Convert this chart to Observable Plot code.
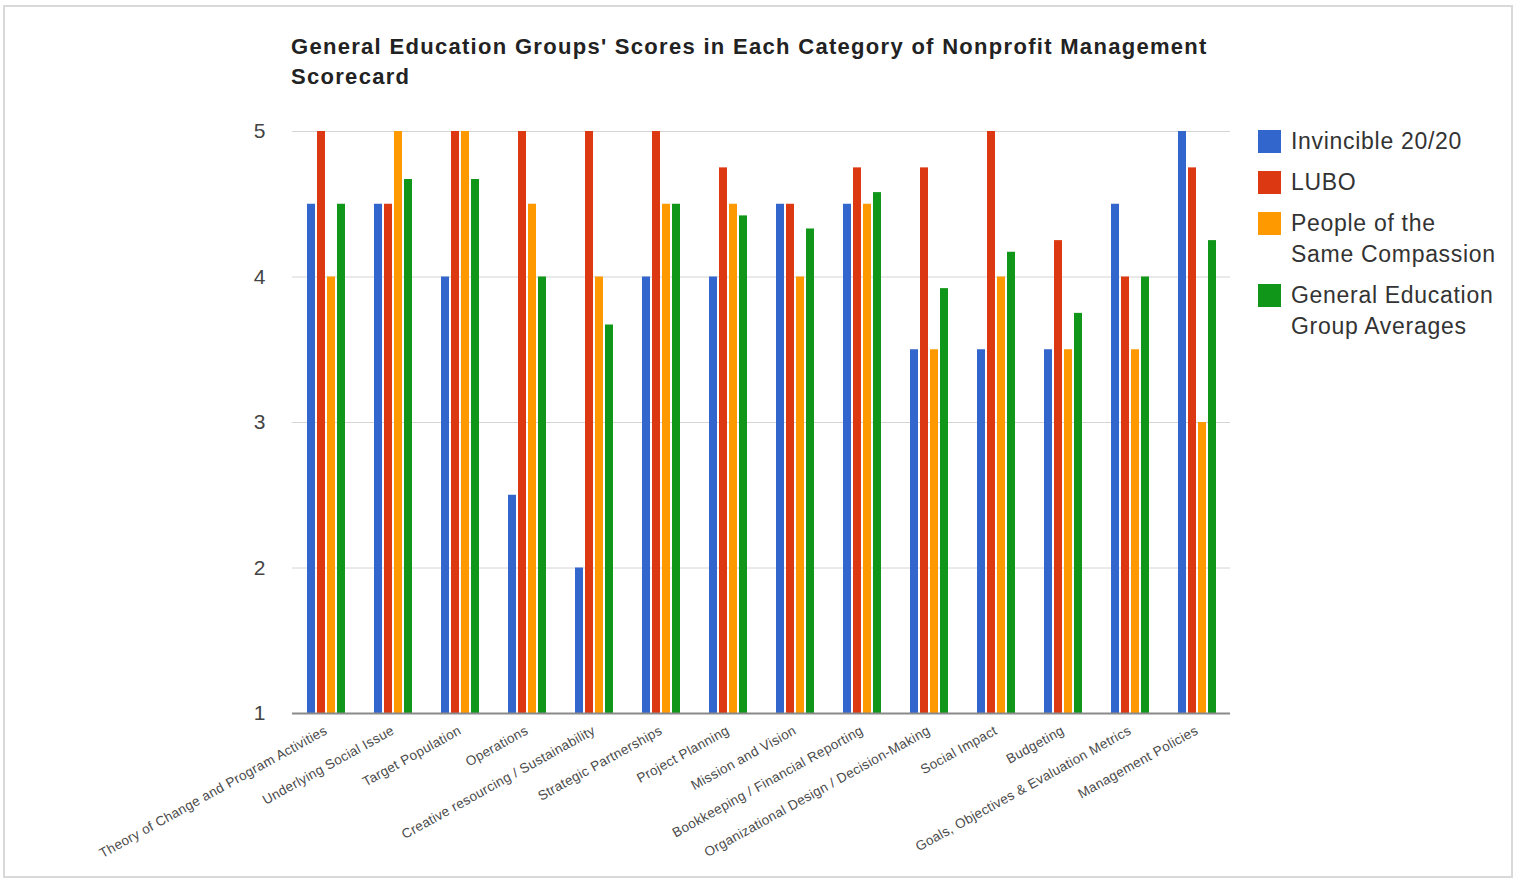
<!DOCTYPE html>
<html>
<head>
<meta charset="utf-8">
<script src="https://cdn.jsdelivr.net/npm/d3@7"></script>
<script src="https://cdn.jsdelivr.net/npm/@observablehq/plot@0.6"></script>
<style>
  html, body { margin: 0; padding: 0; background: #fff; }
  body { width: 1524px; height: 884px; position: relative; overflow: hidden; font-family: "Liberation Sans", Arial, Helvetica, sans-serif; }
  #frame { position: absolute; left: 3px; top: 5px; width: 1510px; height: 873px; border: 2px solid #d9d9d9; box-sizing: border-box; }
  #title { position: absolute; left: 291px; top: 32px; font-weight: bold; font-size: 22px; letter-spacing: 1.3px; line-height: 30px; color: #222; white-space: nowrap; }
  #chart { position: absolute; left: 0; top: 100px; }
  #legend { position: absolute; left: 1258px; top: 126px; font-size: 23px; letter-spacing: 0.7px; line-height: 31px; color: #333; }
  .item { display: flex; align-items: flex-start; margin-bottom: 10px; }
  .sw { width: 23px; height: 23px; margin-top: 4px; margin-right: 10px; flex: none; }
  #chart svg g[aria-label="fx-axis tick label"] text { letter-spacing: 0.3px; }
</style>
</head>
<body>
<div id="frame"></div>
<div id="title"></div>
<div id="chart"></div>
<div id="legend"></div>
<script>
const titleLines = ["General Education Groups' Scores in Each Category of Nonprofit Management", "Scorecard"];

const categories = [
  "Theory of Change and Program Activities",
  "Underlying Social Issue",
  "Target Population",
  "Operations",
  "Creative resourcing / Sustainability",
  "Strategic Partnerships",
  "Project Planning",
  "Mission and Vision",
  "Bookkeeping / Financial Reporting",
  "Organizational Design / Decision-Making",
  "Social Impact",
  "Budgeting",
  "Goals, Objectives & Evaluation Metrics",
  "Management Policies"
];

const series = ["Invincible 20/20", "LUBO", "People of the Same Compassion", "General Education Group Averages"];
const legendLines = [["Invincible 20/20"], ["LUBO"], ["People of the", "Same Compassion"], ["General Education", "Group Averages"]];
const colors = ["#3366cc", "#dc3912", "#ff9900", "#109618"];

const invincible = [4.5, 4.5, 4, 2.5, 2, 4, 4, 4.5, 4.5, 3.5, 3.5, 3.5, 4.5, 5];
const lubo       = [5, 4.5, 5, 5, 5, 5, 4.75, 4.5, 4.75, 4.75, 5, 4.25, 4, 4.75];
const pscp       = [4, 5, 5, 4.5, 4, 4.5, 4.5, 4, 4.5, 3.5, 4, 3.5, 3.5, 3];
const averages   = [4.5, 4.67, 4.67, 4, 3.67, 4.5, 4.42, 4.33, 4.58, 3.92, 4.17, 3.75, 4, 4.25];

const yTicks = [1, 2, 3, 4, 5];

// build long table
const valuesBySeries = [invincible, lubo, pscp, averages];
const rows = [];
categories.forEach((c, i) => {
  series.forEach((s, j) => rows.push({category: c, series: s, value: valuesBySeries[j][i]}));
});

document.getElementById("title").innerHTML = titleLines.join("<br>");

const chart = Plot.plot({
  width: 1260,
  height: 773,
  marginLeft: 290,
  marginRight: 28,
  marginTop: 31,
  marginBottom: 160,
  style: {fontFamily: "'Liberation Sans', Arial, sans-serif", background: "transparent", overflow: "visible"},
  fx: {domain: categories, padding: 0, label: null},
  x: {domain: series, axis: null, paddingInner: 0.2, paddingOuter: 1.3},
  y: {domain: [1, 5], label: null},
  color: {domain: series, range: colors},
  marks: [
    Plot.ruleY(yTicks.slice(1), {stroke: "#d4d4d4", strokeWidth: 1}),
    Plot.barY(rows, {fx: "category", x: "series", y1: 1, y2: "value", fill: "series"}),
    Plot.ruleY([1], {stroke: "#8a8a8a", strokeWidth: 2}),
    Plot.axisY(yTicks, {tickSize: 0, tickPadding: 27, fontSize: 21, fill: "#444", label: null, tickFormat: d => d}),
    Plot.axisFx({anchor: "bottom", tickRotate: -29, tickSize: 0, tickPadding: 16, fontSize: 13.5, fill: "#4a4a4a", label: null})
  ]
});
document.getElementById("chart").appendChild(chart);

const legend = document.getElementById("legend");
series.forEach((s, i) => {
  const item = document.createElement("div");
  item.className = "item";
  const sw = document.createElement("div");
  sw.className = "sw";
  sw.style.background = colors[i];
  const t = document.createElement("div");
  t.innerHTML = legendLines[i].join("<br>");
  item.appendChild(sw);
  item.appendChild(t);
  legend.appendChild(item);
});
</script>
</body>
</html>
